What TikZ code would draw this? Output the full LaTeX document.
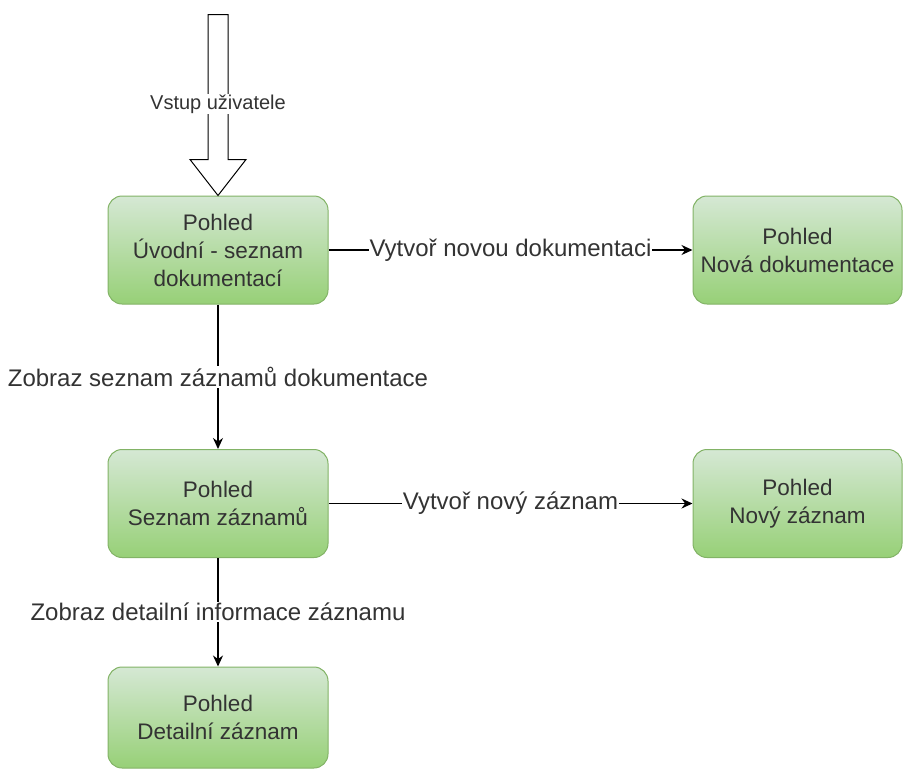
\documentclass[tikz,border=0pt]{standalone}
\usepackage{fontspec}
\setmainfont{Liberation Sans}
\usetikzlibrary{arrows.meta}
\definecolor{gtop}{HTML}{D5E8D4}
\definecolor{gbot}{HTML}{97D077}
\definecolor{gline}{HTML}{82B366}
\definecolor{txt}{HTML}{333333}
\begin{document}
\begin{tikzpicture}[x=1pt,y=-1pt,
  viewbox/.style={draw=gline, line width=1pt, rounded corners=14pt, top color=gtop, bottom color=gbot,
    minimum width=220pt, minimum height=108pt, align=center, text=txt,
    font=\fontsize{22.5}{28}\selectfont, inner sep=0pt},
  flow/.style={line width=1.5pt, -{Stealth[length=11pt,width=10pt]}},
  lbl/.style={fill=white, inner sep=1pt, font=\fontsize{24}{28}\selectfont, text=txt},
  biglbl/.style={fill=white, inner sep=1pt, font=\fontsize{20}{24}\selectfont, text=txt}]
\useasboundingbox (0,0) rectangle (904,769);
\node[viewbox] (b1) at (218,250) {Pohled\\Úvodní - seznam\\dokumentací};
\node[viewbox, minimum width=209pt] (b2) at (797.5,250) {Pohled\\Nová dokumentace};
\node[viewbox] (b3) at (218,503.5) {Pohled\\Seznam záznamů};
\node[viewbox, minimum width=209pt] (b4) at (797.5,503.5) {Pohled\\Nový záznam};
\node[viewbox, minimum height=101pt] (b5) at (218,717.5) {Pohled\\Detailní záznam};
% big input arrow
\coordinate (tip) at (b1.north);
\draw[line width=1pt, fill=white] (tip) -- ++(28,-36) -- ++(-18,0) -- ++(0,-145) -- ++(-20,0) -- ++(0,145) -- ++(-18,0) -- cycle;
\node[biglbl] (in) at (218,104) {Vstup uživatele};
% connectors
\draw[flow] (b1) -- node[lbl] {Vytvoř novou dokumentaci} (b2);
\draw[flow] (b1) -- node[lbl] {Zobraz seznam záznamů dokumentace} (b3);
\draw[flow] (b3) -- node[lbl] {Vytvoř nový záznam} (b4);
\draw[flow] (b3) -- node[lbl] {Zobraz detailní informace záznamu} (b5);
\end{tikzpicture}
\end{document}
